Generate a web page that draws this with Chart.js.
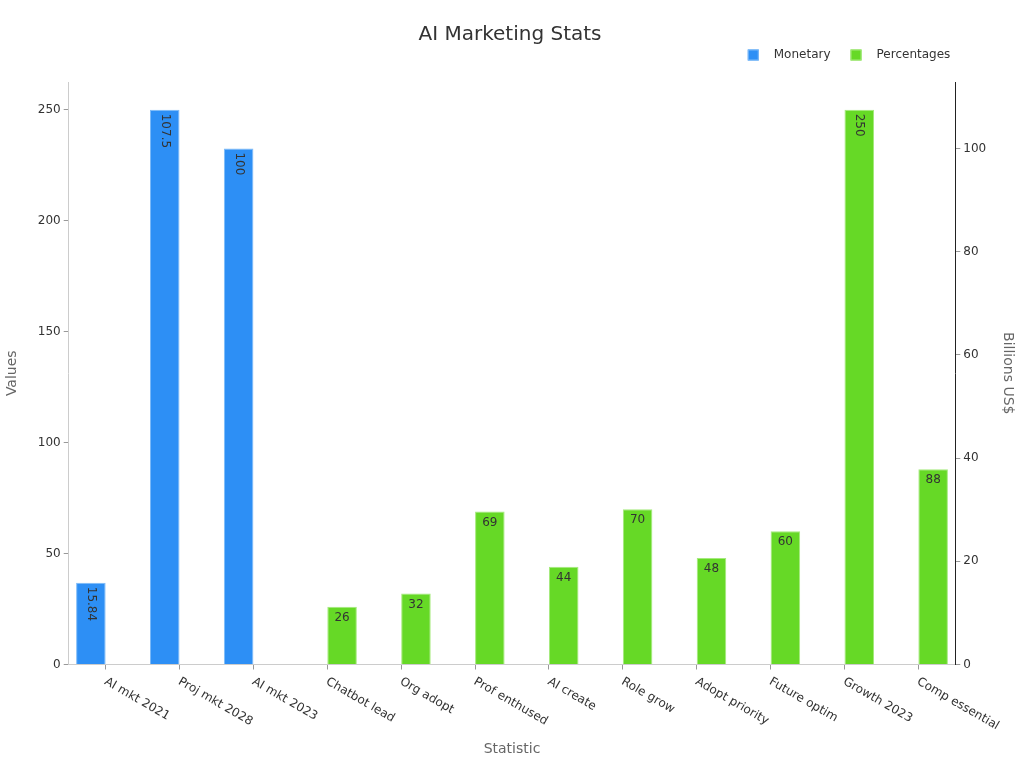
<!DOCTYPE html>
<html>
<head>
<meta charset="utf-8">
<script src="https://cdn.jsdelivr.net/npm/chart.js@4.4.1/dist/chart.umd.min.js"></script>
<style>
  html, body { margin: 0; padding: 0; background: #fff; }
  #wrap { width: 1024px; height: 768px; position: relative; }
</style>
</head>
<body>
<div id="wrap"><canvas id="chart"></canvas></div>
<script>
// chart data
const categories = ['AI mkt 2021', 'Proj mkt 2028', 'AI mkt 2023', 'Chatbot lead', 'Org adopt', 'Prof enthused',
    'AI create', 'Role grow', 'Adopt priority', 'Future optim', 'Growth 2023', 'Comp essential'];
const monetary = [15.84, 107.5, 100, null, null, null, null, null, null, null, null, null];
const percentages = [null, null, null, 26, 32, 69, 44, 70, 48, 60, 250, 88];
const leftTicks = [0, 50, 100, 150, 200, 250];
const rightTicks = [0, 20, 40, 60, 80, 100];

const FONT = 'DejaVu Sans, sans-serif';

// bar value labels, drawn inside the top of each bar
const valueLabels = {
    id: 'valueLabels',
    afterDatasetsDraw(chart) {
        const ctx = chart.ctx;
        ctx.save();
        ctx.fillStyle = '#333';
        ctx.font = '12px ' + FONT;
        chart.data.datasets.forEach(function (ds, di) {
            const meta = chart.getDatasetMeta(di);
            meta.data.forEach(function (bar, i) {
                const v = ds.data[i];
                if (v === null || v === undefined) return;
                const txt = String(v);
                if (txt.length >= 3) {
                    ctx.save();
                    ctx.translate(bar.x, bar.y + 4);
                    ctx.rotate(Math.PI / 2);
                    ctx.textAlign = 'left';
                    ctx.textBaseline = 'middle';
                    ctx.fillText(txt, 0, 0);
                    ctx.restore();
                } else {
                    ctx.textAlign = 'center';
                    ctx.textBaseline = 'top';
                    ctx.fillText(txt, bar.x, bar.y + 5);
                }
            });
        });
        ctx.restore();
    }
};

// x labels slanting down to the right from each tick
const slantLabels = {
    id: 'slantLabels',
    afterDraw(chart) {
        const scale = chart.scales.x;
        const ctx = chart.ctx;
        ctx.save();
        ctx.fillStyle = '#333';
        ctx.font = '12px ' + FONT;
        ctx.textAlign = 'left';
        ctx.textBaseline = 'alphabetic';
        categories.forEach(function (c, i) {
            const x = scale.getPixelForTick(i);
            ctx.save();
            ctx.translate(x - 2, scale.top + 19);
            ctx.rotate(Math.PI / 6);
            ctx.fillText(c, 0, 0);
            ctx.restore();
        });
        ctx.restore();
    }
};

// legend at top right, above the plot
const topLegend = {
    id: 'topLegend',
    afterDraw(chart) {
        const ctx = chart.ctx;
        const area = chart.chartArea;
        const box = 11, gapText = 15, gapItem = 20;
        ctx.save();
        ctx.font = '12px ' + FONT;
        ctx.textBaseline = 'middle';
        ctx.textAlign = 'left';
        const items = chart.data.datasets.map(function (ds) {
            return { text: ds.label, fill: ds.backgroundColor, stroke: ds.borderColor, w: ctx.measureText(ds.label).width };
        });
        let total = 0;
        items.forEach(function (it, i) { total += box + gapText + it.w + (i ? gapItem : 0); });
        let x = area.right - 5 - total;
        const cy = area.top - 27;
        items.forEach(function (it) {
            ctx.fillStyle = it.fill;
            ctx.fillRect(x, cy - box / 2, box, box);
            ctx.strokeStyle = it.stroke;
            ctx.lineWidth = 1;
            ctx.strokeRect(x + 0.5, cy - box / 2 + 0.5, box - 1, box - 1);
            ctx.fillStyle = '#333';
            ctx.fillText(it.text, x + box + gapText, cy);
            x += box + gapText + it.w + gapItem;
        });
        ctx.restore();
    }
};

function keepTicks(list) {
    return function (axis) {
        axis.ticks = list.map(function (v) { return { value: v }; });
    };
}

new Chart(document.getElementById('chart'), {
    type: 'bar',
    data: {
        labels: categories,
        datasets: [
            {
                label: 'Monetary',
                data: monetary,
                yAxisID: 'y1',
                backgroundColor: '#2d8ff5',
                borderColor: '#7dbaf8',
                borderWidth: 1,
                categoryPercentage: 0.8,
                barPercentage: 1.0
            },
            {
                label: 'Percentages',
                data: percentages,
                yAxisID: 'y',
                backgroundColor: '#66d926',
                borderColor: '#a5ea7d',
                borderWidth: 1,
                categoryPercentage: 0.8,
                barPercentage: 1.0
            }
        ]
    },
    options: {
        responsive: true,
        maintainAspectRatio: false,
        animation: false,
        layout: { padding: { top: 0, left: 0, right: 4, bottom: 6 } },
        plugins: {
            title: {
                display: true,
                text: 'AI Marketing Stats',
                color: '#333',
                font: { family: FONT, size: 20, weight: 'normal' },
                padding: { top: 23, bottom: 35 }
            },
            legend: { display: false },
            tooltip: { enabled: false }
        },
        scales: {
            x: {
                offset: true,
                grid: { display: true, drawOnChartArea: false, offset: false, tickLength: 5, color: '#999' },
                border: { display: true, color: '#ccc' },
                ticks: { color: 'transparent', font: { family: FONT, size: 12 }, minRotation: 30, maxRotation: 30, autoSkip: false },
                title: { display: true, text: 'Statistic', color: '#666', font: { family: FONT, size: 14 }, padding: { top: 7, bottom: 4 } }
            },
            y: {
                position: 'left',
                min: 0,
                max: 262.5,
                afterBuildTicks: keepTicks(leftTicks),
                grid: { display: true, drawOnChartArea: false, tickLength: 5, color: '#999' },
                border: { display: true, color: '#ccc' },
                ticks: { color: '#333', font: { family: FONT, size: 12 }, padding: 3 },
                title: { display: true, text: 'Values', color: '#666', font: { family: FONT, size: 14 }, padding: { top: 4, bottom: 14 } }
            },
            y1: {
                position: 'right',
                min: 0,
                max: 112.875,
                afterBuildTicks: keepTicks(rightTicks),
                grid: { display: true, drawOnChartArea: false, tickLength: 5, color: '#999' },
                border: { display: true, color: '#222' },
                ticks: { color: '#333', font: { family: FONT, size: 12 }, padding: 3 },
                title: { display: true, text: 'Billions US$', color: '#666', font: { family: FONT, size: 14 }, padding: { top: 4, bottom: 10 } }
            }
        }
    },
    plugins: [valueLabels, slantLabels, topLegend]
});
</script>
</body>
</html>
